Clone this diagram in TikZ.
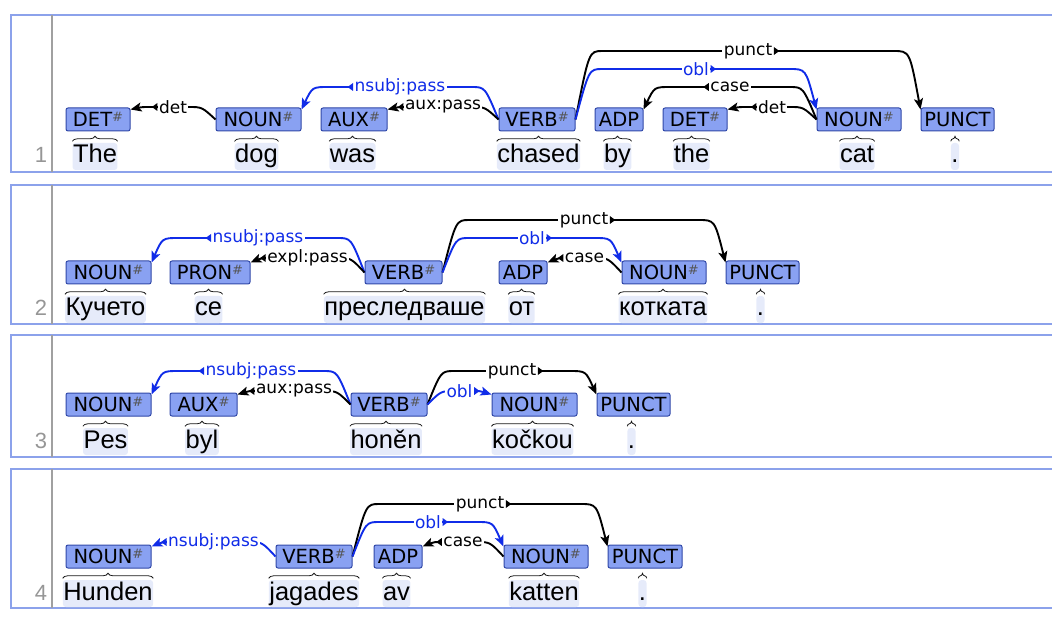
\documentclass[tikz,border=0pt]{standalone}
\usepackage{fontspec}
\setmainfont{Liberation Sans}
\newfontfamily\relfontfam{DejaVu Sans}
\usetikzlibrary{calc}
\usetikzlibrary{arrows.meta}
\usetikzlibrary{decorations.pathreplacing}

\definecolor{framecol}{RGB}{140,162,235}
\definecolor{posfill}{RGB}{137,161,242}
\definecolor{posdraw}{RGB}{48,72,168}
\definecolor{wordfill}{RGB}{230,235,250}
\definecolor{relblue}{RGB}{16,44,232}
\definecolor{numgray}{RGB}{150,150,150}
\definecolor{hashgray}{RGB}{85,85,85}

\newcommand{\hsh}{\raisebox{5.5pt}{\fontsize{13}{13}\selectfont\itshape\color{hashgray}\#}}

\tikzset{
  rowframe/.style={draw=framecol, line width=2pt},
  rowsep/.style={draw=numgray!90, line width=2pt},
  rownum/.style={text=numgray, anchor=base, inner sep=0pt, font=\fontsize{22}{22}\selectfont},
  upos/.style={draw=posdraw, fill=posfill, line width=1pt, rounded corners=2pt, minimum height=23pt, inner sep=0pt, font=\relfontfam\fontsize{19.5}{20}\selectfont},
  wordtok/.style={fill=wordfill, rounded corners=3pt, inner xsep=0.5pt, inner ysep=0pt, text height=20pt, text depth=7pt, anchor=base, font=\fontsize{25.5}{30}\selectfont},
  wbrace/.style={draw=black!90, line width=0.8pt, decorate, decoration={brace, amplitude=5pt}},
  edgeline/.style={line width=1.9pt, -{Stealth[length=11pt,width=9pt,inset=2.5pt]}},
  deplab/.style={fill=white, inner xsep=1.5pt, inner ysep=0.5pt, font=\relfontfam\fontsize{17}{18}\selectfont}
}

% token: name, x, baseline y, text
\newcommand{\tok}[4]{%
  \node[wordtok] (#1) at (#2,#3) {#4};
  \draw[wbrace] ([yshift=1.5pt]#1.north west) -- ([yshift=1.5pt]#1.north east);
}
% tag: name, x, y, width, text
\newcommand{\upostag}[5]{%
  \node[upos, minimum width=#4pt] (#1) at (#2,#3) {#5};
}
% arc: colour, head anchor, dependent anchor, bend width, level, label, marker side
\newcommand{\deparc}[7]{%
  \draw[edgeline,#1] (#2) .. controls ($(#2 |- 0,#5)+0.5*(#4,0)$) .. ($(#2 |- 0,#5)+(#4,0)$)
    -- ($(#3 |- 0,#5)-(#4,0)$) .. controls ($(#3 |- 0,#5)-0.4*(#4,0)$) .. ($(#3)+(0,2)$);
  \node[deplab, text=#1] (lab) at ($(#2 |- 0,#5)!0.5!(#3 |- 0,#5)$) {#6};
  \fill[#1] ($(lab.#7)+(0,-4)$) -- ($(lab.#7)+(0,4)$) -- ($(lab.#7)+0.2*(#4,0)$) -- cycle;
}

\begin{document}
\begin{tikzpicture}[x=1pt,y=-1pt]
        \useasboundingbox (0,0) rectangle (1052,620);

        % Frames
        \draw[rowframe] (11,15) rectangle (1062,172);
        \draw[rowsep] (52,15) -- (52,172);
        \draw[rowframe] (11,185) rectangle (1062,324);
        \draw[rowsep] (52,185) -- (52,324);
        \draw[rowframe] (11,335) rectangle (1062,457);
        \draw[rowsep] (52,335) -- (52,457);
        \draw[rowframe] (11,469) rectangle (1062,608);
        \draw[rowsep] (52,469) -- (52,608);

        \node[rownum] (n1) at (41,163) {1};
        \node[rownum] (n2) at (41,316) {2};
        \node[rownum] (n3) at (41,448) {3};
        \node[rownum] (n4) at (41,600) {4};

        % Sentence 1
        \upostag{p11}{98}{119.5}{64}{DET\hsh}
        \upostag{p12}{258.5}{119.5}{85}{NOUN\hsh}
        \upostag{p13}{354}{119.5}{66}{AUX\hsh}
        \upostag{p14}{537}{119.5}{76}{VERB\hsh}
        \upostag{p15}{619}{119.5}{48}{ADP}
        \upostag{p16}{695}{119.5}{64}{DET\hsh}
        \upostag{p17}{859}{119.5}{84}{NOUN\hsh}
        \upostag{p18}{957.5}{119.5}{73}{PUNCT}

        \tok{w11}{95}{163}{The}
        \tok{w12}{256.5}{163}{dog}
        \tok{w13}{352.5}{163}{was}
        \tok{w14}{538.5}{163}{chased}
        \tok{w15}{617.5}{163}{by}
        \tok{w16}{691.5}{163}{the}
        \tok{w17}{857}{163}{cat}
        \tok{w18}{955}{163}{.}

        \deparc{black}{p12.west}{p11.north east}{-27}{107}{det}{west}
        \deparc{relblue}{p14.west}{p12.north east}{-27}{87}{nsubj:pass}{west}
        \deparc{black}{p14.west}{p13.north east}{-27}{107}{aux:pass}{west}
        \deparc{black}{p14.east}{p18.north west}{27}{51}{punct}{east}
        \deparc{relblue}{p14.east}{p17.north west}{27}{69}{obl}{east}
        \deparc{black}{p17.west}{p15.north east}{-27}{87}{case}{west}
        \deparc{black}{p17.west}{p16.north east}{-27}{107}{det}{west}

        % Sentence 2
        \upostag{p21}{108.5}{272.5}{85}{NOUN\hsh}
        \upostag{p22}{210}{272.5}{80}{PRON\hsh}
        \upostag{p23}{403.5}{272.5}{77}{VERB\hsh}
        \upostag{p24}{523}{272.5}{48}{ADP}
        \upostag{p25}{664}{272.5}{84}{NOUN\hsh}
        \upostag{p26}{762.5}{272.5}{73}{PUNCT}

        \tok{w21}{105.5}{316}{Кучето}
        \tok{w22}{208.5}{316}{се}
        \tok{w23}{404.5}{316}{преследваше}
        \tok{w24}{521.5}{316}{от}
        \tok{w25}{663}{316}{котката}
        \tok{w26}{760.5}{316}{.}

        \deparc{relblue}{p23.west}{p21.north east}{-27}{238}{nsubj:pass}{west}
        \deparc{black}{p23.west}{p22.north east}{-27}{258}{expl:pass}{west}
        \deparc{black}{p23.east}{p26.north west}{27}{220}{punct}{east}
        \deparc{relblue}{p23.east}{p25.north west}{27}{238}{obl}{east}
        \deparc{black}{p25.west}{p24.north east}{-27}{258}{case}{west}

        % Sentence 3
        \upostag{p31}{108.5}{404.5}{85}{NOUN\hsh}
        \upostag{p32}{203.5}{404.5}{67}{AUX\hsh}
        \upostag{p33}{389}{404.5}{76}{VERB\hsh}
        \upostag{p34}{534.5}{404.5}{85}{NOUN\hsh}
        \upostag{p35}{633.5}{404.5}{73}{PUNCT}

        \tok{w31}{105.5}{448}{Pes}
        \tok{w32}{202}{448}{byl}
        \tok{w33}{386}{448}{honěn}
        \tok{w34}{532.5}{448}{kočkou}
        \tok{w35}{631.5}{448}{.}

        \deparc{relblue}{p33.west}{p31.north east}{-27}{371}{nsubj:pass}{west}
        \deparc{black}{p33.west}{p32.north east}{-27}{391}{aux:pass}{west}
        \deparc{black}{p33.east}{p35.north west}{27}{371}{punct}{east}
        \deparc{relblue}{p33.east}{p34.north west}{27}{391}{obl}{east}

        % Sentence 4
        \upostag{p41}{108.5}{556.5}{85}{NOUN\hsh}
        \upostag{p42}{314}{556.5}{76}{VERB\hsh}
        \upostag{p43}{398}{556.5}{48}{ADP}
        \upostag{p44}{546}{556.5}{84}{NOUN\hsh}
        \upostag{p45}{645}{556.5}{74}{PUNCT}

        \tok{w41}{108}{600}{Hunden}
        \tok{w42}{314}{600}{jagades}
        \tok{w43}{396.5}{600}{av}
        \tok{w44}{544}{600}{katten}
        \tok{w45}{642.5}{600}{.}

        \deparc{relblue}{p42.west}{p41.north east}{-27}{542}{nsubj:pass}{west}
        \deparc{black}{p42.east}{p45.north west}{27}{504}{punct}{east}
        \deparc{relblue}{p42.east}{p44.north west}{27}{522}{obl}{east}
        \deparc{black}{p44.west}{p43.north east}{-27}{542}{case}{west}
\end{tikzpicture}
\end{document}
